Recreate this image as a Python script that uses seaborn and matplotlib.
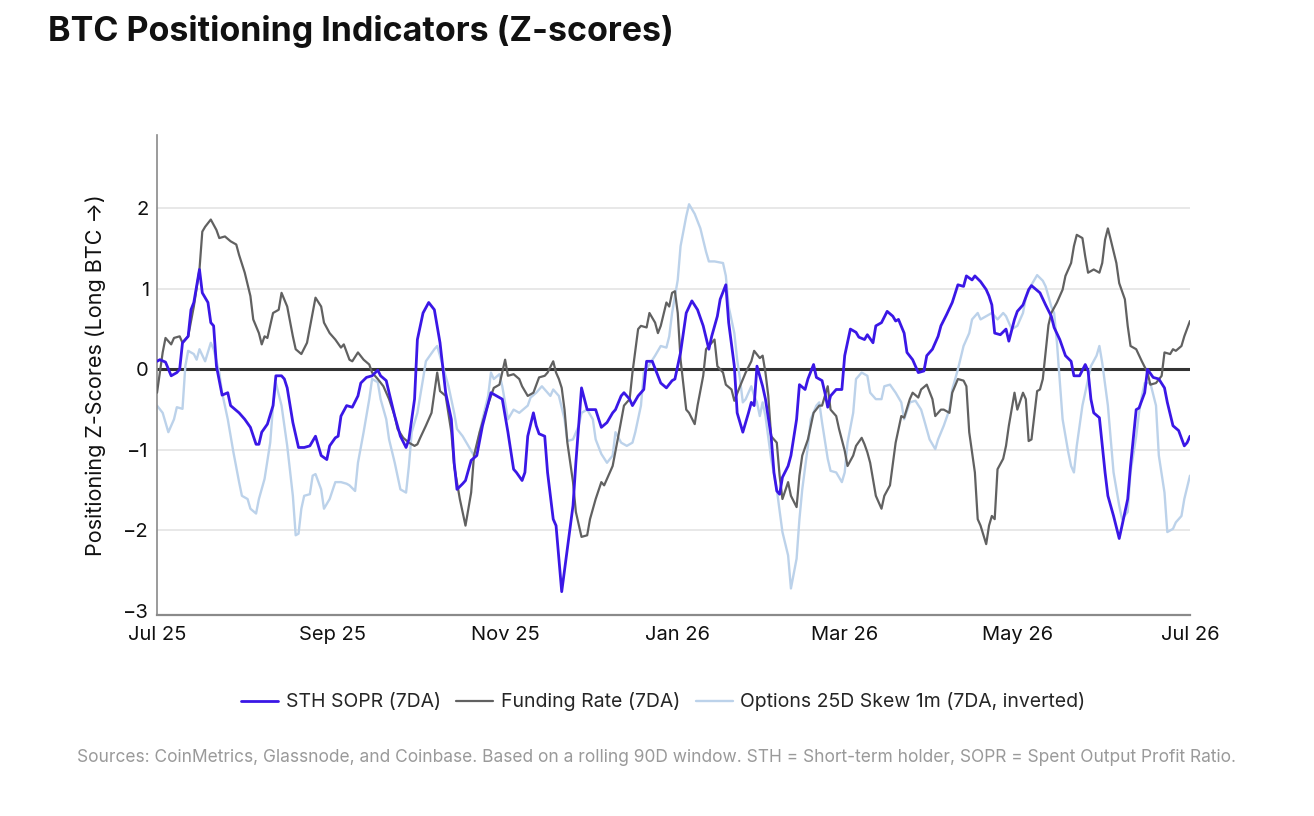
import pandas as pd
import seaborn as sns
import matplotlib.pyplot as plt
import matplotlib.dates as mdates

# x values are days after 1 Jul 2025
START = "2025-07-01"

sopr_day = [0, 1, 3, 5, 7, 8, 9, 11, 12, 13,
            15, 16, 18, 19, 20, 21, 23, 25, 26, 29,
            31, 33, 35, 36, 37, 39, 41, 42, 44, 45,
            46, 48, 50, 52, 54, 56, 58, 60, 61, 63,
            64, 65, 67, 69, 71, 72, 74, 76, 78, 79,
            81, 82, 84, 86, 88, 89, 91, 92, 94, 96,
            98, 100, 102, 104, 105, 106, 108, 109, 111, 113,
            115, 118, 119, 122, 124, 126, 127, 129, 130, 131,
            133, 134, 135, 137, 138, 140, 141, 143, 145, 147,
            148, 150, 152, 154, 155, 157, 159, 161, 162, 164,
            165, 167, 168, 170, 172, 173, 175, 177, 178, 180,
            182, 183, 185, 187, 189, 191, 193, 195, 196, 198,
            199, 201, 202, 204, 205, 207, 209, 210, 211, 212,
            214, 215, 217, 218, 219, 220, 221, 223, 224, 226,
            227, 229, 230, 232, 233, 235, 236, 237, 238, 240,
            242, 243, 245, 247, 248, 250, 251, 253, 254, 256,
            258, 260, 261, 262, 264, 265, 267, 269, 271, 272,
            274, 276, 277, 279, 281, 283, 285, 286, 288, 289,
            291, 293, 294, 295, 296, 298, 300, 301, 303, 304,
            306, 308, 309, 310, 312, 314, 316, 317, 319, 321,
            323, 324, 326, 328, 329, 330, 331, 333, 335, 336,
            338, 340, 341, 343, 344, 346, 347, 349, 350, 352,
            354, 356, 357, 359, 361, 363, 364, 365]
sopr_val = [0.10, 0.12, 0.09, -0.08, -0.04, 0.00, 0.33, 0.41, 0.74, 0.83,
            1.24, 0.95, 0.83, 0.58, 0.54, 0.04, -0.32, -0.29, -0.45, -0.54,
            -0.62, -0.72, -0.93, -0.93, -0.78, -0.68, -0.45, -0.08, -0.08, -0.12,
            -0.23, -0.66, -0.97, -0.97, -0.95, -0.83, -1.07, -1.12, -0.95, -0.85,
            -0.83, -0.58, -0.45, -0.47, -0.33, -0.17, -0.10, -0.08, -0.01, -0.08,
            -0.14, -0.29, -0.58, -0.83, -0.97, -0.87, -0.37, 0.37, 0.70, 0.83,
            0.74, 0.33, -0.29, -0.62, -1.16, -1.49, -1.42, -1.38, -1.13, -1.07,
            -0.70, -0.29, -0.31, -0.37, -0.78, -1.24, -1.28, -1.38, -1.28, -0.83,
            -0.54, -0.70, -0.80, -0.83, -1.28, -1.86, -1.94, -2.76, -2.23, -1.69,
            -1.16, -0.23, -0.50, -0.50, -0.50, -0.72, -0.66, -0.54, -0.50, -0.33,
            -0.29, -0.37, -0.45, -0.33, -0.25, 0.10, 0.10, -0.08, -0.17, -0.23,
            -0.14, -0.12, 0.21, 0.70, 0.85, 0.74, 0.54, 0.25, 0.41, 0.66,
            0.87, 1.05, 0.58, 0.04, -0.54, -0.78, -0.54, -0.41, -0.45, 0.04,
            -0.21, -0.37, -0.83, -1.28, -1.51, -1.55, -1.34, -1.20, -1.07, -0.62,
            -0.19, -0.25, -0.12, 0.06, -0.10, -0.14, -0.29, -0.47, -0.33, -0.25,
            -0.25, 0.17, 0.50, 0.46, 0.40, 0.37, 0.43, 0.33, 0.54, 0.58,
            0.72, 0.66, 0.60, 0.62, 0.45, 0.21, 0.12, -0.04, -0.02, 0.17,
            0.25, 0.41, 0.54, 0.68, 0.83, 1.05, 1.03, 1.16, 1.11, 1.16,
            1.09, 0.99, 0.91, 0.80, 0.45, 0.43, 0.50, 0.35, 0.62, 0.72,
            0.80, 0.99, 1.04, 1.01, 0.95, 0.80, 0.66, 0.52, 0.37, 0.17,
            0.10, -0.08, -0.08, 0.06, -0.02, -0.37, -0.54, -0.60, -1.28, -1.57,
            -1.82, -2.10, -1.94, -1.61, -1.20, -0.50, -0.48, -0.29, 0.00, -0.10,
            -0.12, -0.23, -0.41, -0.70, -0.76, -0.95, -0.91, -0.83]

fund_day = [0, 2, 3, 5, 6, 8, 9, 11, 13, 15,
            16, 17, 19, 21, 22, 24, 26, 28, 29, 31,
            33, 34, 36, 37, 38, 39, 41, 43, 44, 46,
            48, 49, 51, 53, 55, 56, 58, 59, 61, 63,
            65, 66, 68, 69, 71, 73, 75, 76, 78, 80,
            82, 84, 85, 87, 89, 91, 92, 93, 95, 97,
            98, 99, 100, 102, 104, 105, 107, 109, 111, 112,
            114, 116, 118, 119, 121, 123, 124, 126, 128, 129,
            131, 133, 135, 137, 138, 140, 141, 142, 143, 144,
            145, 147, 148, 150, 152, 153, 155, 157, 158, 160,
            161, 163, 165, 167, 168, 170, 171, 173, 174, 176,
            177, 178, 180, 181, 182, 183, 184, 185, 187, 188,
            190, 191, 193, 194, 196, 197, 198, 200, 201, 203,
            204, 206, 208, 210, 211, 213, 214, 215, 216, 217,
            219, 220, 221, 223, 224, 226, 227, 228, 230, 232,
            234, 235, 237, 238, 240, 241, 243, 244, 246, 247,
            249, 250, 251, 252, 254, 256, 257, 259, 261, 263,
            264, 266, 267, 269, 270, 272, 274, 275, 277, 278,
            280, 281, 283, 285, 286, 287, 289, 290, 291, 293,
            294, 295, 296, 297, 299, 300, 301, 303, 304, 306,
            307, 308, 309, 311, 312, 313, 315, 316, 318, 320,
            321, 323, 324, 325, 327, 328, 329, 331, 333, 334,
            335, 336, 337, 339, 340, 342, 343, 344, 346, 348,
            350, 351, 353, 355, 356, 358, 359, 360, 362, 363,
            365]
fund_val = [-0.29, 0.21, 0.39, 0.31, 0.39, 0.41, 0.33, 0.41, 0.78, 1.24,
            1.71, 1.77, 1.86, 1.73, 1.63, 1.65, 1.59, 1.55, 1.42, 1.20,
            0.91, 0.62, 0.45, 0.31, 0.41, 0.39, 0.70, 0.74, 0.95, 0.78,
            0.41, 0.25, 0.19, 0.33, 0.70, 0.89, 0.78, 0.58, 0.45, 0.37,
            0.27, 0.31, 0.12, 0.10, 0.21, 0.12, 0.06, -0.04, -0.12, -0.21,
            -0.37, -0.58, -0.74, -0.85, -0.91, -0.95, -0.93, -0.85, -0.70, -0.54,
            -0.29, -0.04, -0.27, -0.33, -0.78, -1.20, -1.61, -1.94, -1.53, -1.07,
            -0.78, -0.54, -0.33, -0.23, -0.19, 0.12, -0.08, -0.06, -0.12, -0.21,
            -0.33, -0.29, -0.10, -0.08, -0.04, 0.10, -0.04, -0.12, -0.23, -0.50,
            -0.91, -1.40, -1.77, -2.08, -2.06, -1.86, -1.61, -1.40, -1.44, -1.28,
            -1.20, -0.83, -0.45, -0.37, -0.04, 0.50, 0.54, 0.52, 0.70, 0.58,
            0.45, 0.54, 0.83, 0.78, 0.95, 0.97, 0.70, 0.12, -0.50, -0.54,
            -0.68, -0.45, -0.08, 0.25, 0.33, 0.37, 0.04, -0.04, -0.19, -0.25,
            -0.39, -0.21, -0.04, 0.10, 0.23, 0.14, 0.17, -0.04, -0.33, -0.83,
            -0.91, -1.32, -1.61, -1.40, -1.57, -1.71, -1.32, -1.07, -0.87, -0.54,
            -0.45, -0.45, -0.21, -0.50, -0.58, -0.74, -1.01, -1.20, -1.07, -0.95,
            -0.85, -0.93, -1.03, -1.16, -1.57, -1.73, -1.57, -1.44, -0.91, -0.58,
            -0.60, -0.37, -0.29, -0.35, -0.25, -0.19, -0.37, -0.58, -0.50, -0.50,
            -0.54, -0.29, -0.12, -0.14, -0.21, -0.78, -1.28, -1.86, -1.94, -2.17,
            -1.94, -1.82, -1.86, -1.24, -1.11, -0.95, -0.70, -0.29, -0.50, -0.29,
            -0.37, -0.89, -0.87, -0.27, -0.25, -0.12, 0.55, 0.70, 0.83, 0.99,
            1.16, 1.32, 1.53, 1.67, 1.63, 1.40, 1.20, 1.24, 1.20, 1.32,
            1.61, 1.75, 1.61, 1.32, 1.07, 0.87, 0.54, 0.29, 0.25, 0.10,
            -0.04, -0.19, -0.17, -0.08, 0.21, 0.19, 0.25, 0.23, 0.29, 0.41,
            0.60]

skew_day = [0, 2, 4, 6, 7, 9, 10, 11, 13, 14,
            15, 17, 19, 20, 22, 23, 25, 27, 29, 30,
            32, 33, 35, 36, 38, 40, 41, 42, 44, 46,
            48, 49, 50, 51, 52, 54, 55, 56, 58, 59,
            61, 63, 65, 67, 68, 70, 71, 73, 75, 76,
            78, 79, 81, 82, 84, 86, 88, 89, 90, 92,
            94, 95, 98, 99, 101, 103, 105, 106, 108, 110,
            112, 113, 115, 117, 118, 119, 121, 122, 124, 126,
            128, 131, 132, 134, 136, 137, 139, 140, 142, 144,
            145, 147, 149, 150, 152, 154, 155, 157, 159, 161,
            162, 164, 166, 168, 169, 171, 172, 174, 176, 178,
            180, 181, 182, 184, 185, 187, 188, 190, 192, 194,
            195, 197, 200, 201, 202, 204, 205, 206, 207, 208,
            210, 211, 212, 213, 214, 215, 217, 219, 221, 223,
            224, 226, 227, 228, 230, 231, 233, 234, 235, 237,
            238, 240, 242, 243, 244, 246, 247, 249, 251, 252,
            254, 256, 257, 259, 261, 263, 264, 266, 268, 270,
            271, 273, 275, 276, 278, 280, 281, 283, 285, 287,
            288, 290, 291, 293, 295, 297, 299, 300, 302, 304,
            306, 307, 309, 311, 313, 314, 316, 317, 318, 319,
            320, 322, 323, 324, 325, 327, 329, 330, 332, 333,
            334, 336, 337, 338, 340, 341, 343, 344, 346, 347,
            348, 349, 351, 353, 354, 356, 357, 359, 360, 362,
            363, 365]
skew_val = [-0.45, -0.54, -0.78, -0.62, -0.47, -0.49, 0.04, 0.23, 0.19, 0.12,
            0.25, 0.10, 0.33, 0.25, -0.04, -0.29, -0.62, -1.03, -1.40, -1.57,
            -1.61, -1.73, -1.79, -1.61, -1.36, -0.91, -0.45, -0.17, -0.45, -0.95,
            -1.57, -2.06, -2.04, -1.73, -1.57, -1.55, -1.32, -1.30, -1.49, -1.73,
            -1.61, -1.40, -1.40, -1.42, -1.44, -1.51, -1.16, -0.78, -0.37, -0.12,
            -0.16, -0.37, -0.62, -0.87, -1.16, -1.49, -1.53, -1.20, -0.78, -0.54,
            -0.12, 0.10, 0.25, 0.29, 0.04, -0.21, -0.54, -0.74, -0.83, -0.95,
            -1.07, -0.95, -0.62, -0.33, -0.04, -0.12, -0.06, -0.21, -0.62, -0.50,
            -0.54, -0.45, -0.35, -0.29, -0.21, -0.25, -0.33, -0.25, -0.33, -0.62,
            -0.89, -0.87, -0.70, -0.54, -0.50, -0.62, -0.87, -1.05, -1.16, -1.07,
            -0.78, -0.91, -0.95, -0.91, -0.78, -0.45, -0.04, 0.06, 0.17, 0.29,
            0.27, 0.41, 0.70, 1.11, 1.53, 1.90, 2.05, 1.93, 1.75, 1.46,
            1.34, 1.34, 1.32, 1.16, 0.78, 0.45, 0.12, -0.12, -0.41, -0.37,
            -0.21, -0.33, -0.41, -0.58, -0.41, -0.58, -1.11, -1.49, -2.02, -2.31,
            -2.72, -2.35, -1.86, -1.49, -0.95, -0.62, -0.45, -0.41, -0.66, -1.11,
            -1.26, -1.28, -1.40, -1.28, -0.91, -0.54, -0.12, -0.04, -0.08, -0.29,
            -0.37, -0.37, -0.21, -0.19, -0.29, -0.41, -0.62, -0.41, -0.39, -0.50,
            -0.62, -0.87, -0.99, -0.87, -0.70, -0.50, -0.25, 0.00, 0.29, 0.45,
            0.62, 0.70, 0.62, 0.66, 0.70, 0.62, 0.70, 0.66, 0.50, 0.54,
            0.70, 0.89, 1.05, 1.17, 1.10, 1.03, 0.78, 0.70, 0.33, -0.15,
            -0.62, -1.03, -1.20, -1.28, -0.95, -0.45, -0.12, 0.04, 0.17, 0.29,
            0.08, -0.45, -0.87, -1.28, -1.69, -1.86, -1.77, -1.28, -0.83, -0.54,
            -0.33, -0.17, -0.17, -0.45, -1.07, -1.53, -2.02, -1.98, -1.90, -1.82,
            -1.61, -1.32]

series_names = ["STH SOPR (7DA)", "Funding Rate (7DA)", "Options 25D Skew 1m (7DA, inverted)"]
colors = ["#3a17e6", "#616161", "#bcd2ea"]
widths = [2.0, 1.6, 1.7]

tick_months = ["2025-07-01", "2025-09-01", "2025-11-01", "2026-01-01",
               "2026-03-01", "2026-05-01", "2026-07-01"]
y_ticks = [-3, -2, -1, 0, 1, 2]

title = "BTC Positioning Indicators (Z-scores)"
y_label = "Positioning Z-Scores (Long BTC \u2192)"
source = ("Sources: CoinMetrics, Glassnode, and Coinbase. Based on a rolling 90D window. "
          "STH = Short-term holder, SOPR = Spent Output Profit Ratio.")

# long-form table
frames = []
for name, d, v in zip(series_names, [sopr_day, fund_day, skew_day], [sopr_val, fund_val, skew_val]):
    assert len(d) == len(v), name
    frames.append(pd.DataFrame({
        "date": pd.Timestamp(START) + pd.to_timedelta(d, unit="D"),
        "z": v,
        "series": name,
    }))
df = pd.concat(frames, ignore_index=True)

sns.set_theme(style="white")
plt.rcParams["font.family"] = ["Inter", "DejaVu Sans"]

fig = plt.figure(figsize=(13.14, 8.16), dpi=100)
ax = fig.add_axes([0.1195, 0.2463, 0.7861, 0.5883])

for y in [-2, -1, 1, 2]:
    ax.axhline(y, color="#e4e4e4", lw=1.2, zorder=0)
ax.axhline(0, color="#333333", lw=2.2, zorder=1)

# draw order: light skew at the back, SOPR on top
for name, col, lw, z in zip(series_names[::-1], colors[::-1], widths[::-1], [2, 3, 4]):
    sns.lineplot(data=df[df["series"] == name], x="date", y="z", color=col,
                 linewidth=lw, label=name, ax=ax, zorder=z, estimator=None, sort=False)

ax.set_xlim(pd.Timestamp("2025-07-01"), pd.Timestamp("2026-07-01"))
ax.set_ylim(-3.05, 2.91)
ax.set_xticks(pd.to_datetime(tick_months))
ax.xaxis.set_major_formatter(mdates.DateFormatter("%b %y"))
ax.set_yticks(y_ticks)
ax.set_yticklabels(["\u22123", "\u22122", "\u22121", "0", "1", "2"])
ax.tick_params(axis="both", length=0, labelsize=14.5, colors="#111111")
ax.tick_params(axis="x", pad=8)
ax.tick_params(axis="y", pad=6)
ax.set_xlabel("")
ax.set_ylabel(y_label, fontsize=15.5, color="#111111", labelpad=12)

for s in ["top", "right"]:
    ax.spines[s].set_visible(False)
ax.spines["left"].set_color("#8a8a8a")
ax.spines["bottom"].set_color("#8a8a8a")
ax.spines["left"].set_linewidth(1.2)
ax.spines["bottom"].set_linewidth(1.6)

handles, labels = ax.get_legend_handles_labels()
order = [labels.index(n) for n in series_names]
ax.legend([handles[i] for i in order], [labels[i] for i in order],
          loc="center", bbox_to_anchor=(0.49, -0.181), ncol=3, frameon=False,
          fontsize=14, handlelength=1.9, columnspacing=0.8, handletextpad=0.4)

fig.text(48 / 1314, 1 - 32 / 816, title, fontsize=24.5, fontweight="bold",
         color="#111111", va="center", ha="left")
fig.text(77 / 1314, 1 - 757 / 816, source, fontsize=12.5, color="#9a9a9a",
         va="center", ha="left")

fig.savefig("out.png", dpi=100, facecolor="white")
